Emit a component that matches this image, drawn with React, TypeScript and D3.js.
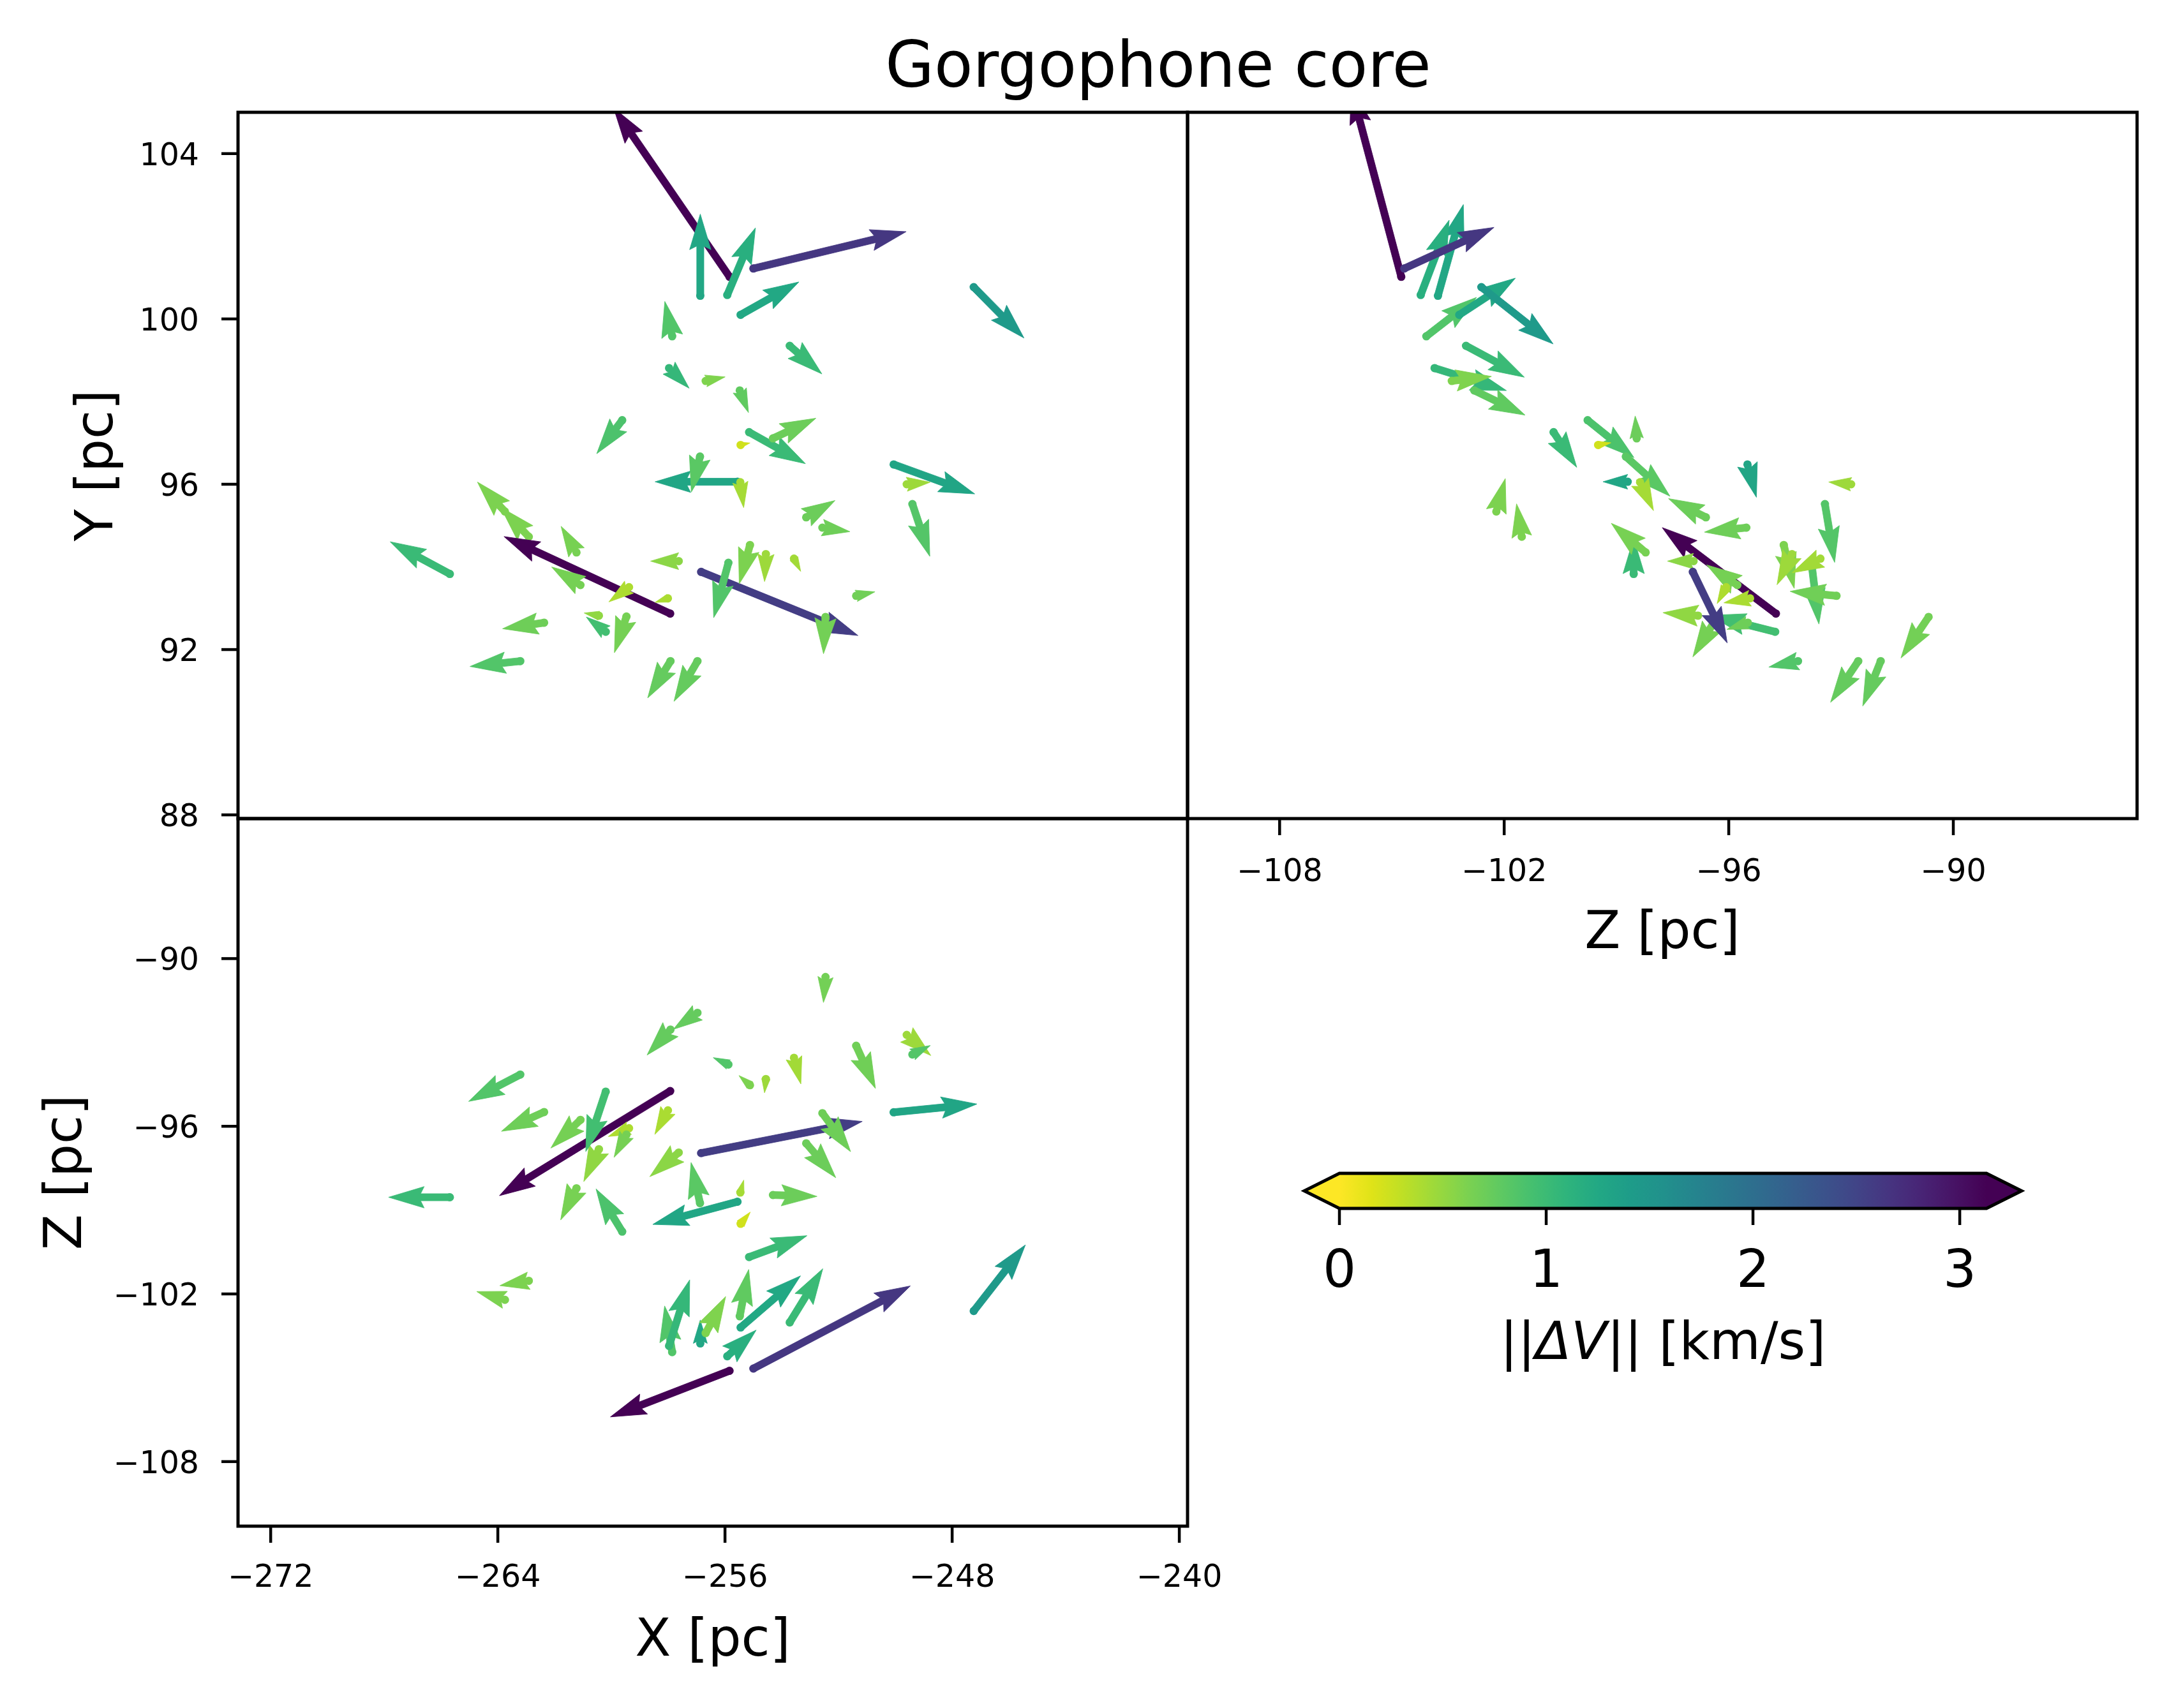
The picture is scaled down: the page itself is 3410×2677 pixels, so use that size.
import React from 'react';
import * as d3 from 'd3';

// Gorgophone core members: positions [pc] and velocity offsets [km/s]
const starX = [
  -255.84, -256.87, -257.86, -257.97, -256.68, -255.92, -255.00, -255.45, -247.24, -253.72,
  -255.48, -259.62, -255.56, -256.88, -262.91, -263.75, -265.69, -257.93, -261.23, -261.09,
  -257.63, -259.38, -258.01, -260.44, -260.20, -259.47, -262.37, -263.21, -257.92, -256.97,
  -256.84, -255.88, -255.12, -254.56, -253.57, -252.46, -251.38, -255.46, -255.45, -255.15,
  -254.31, -250.06, -249.60, -249.40, -253.14, -252.57,
];
const starY = [
  101.02, 100.56, 99.58, 98.81, 98.50, 100.58, 101.22, 100.10, 100.77, 99.35,
  98.27, 97.55, 96.06, 96.67, 94.73, 95.34, 93.83, 92.87, 94.35, 93.56,
  94.14, 93.51, 93.24, 92.82, 92.43, 92.80, 92.65, 91.72, 91.72, 91.72,
  93.88, 94.10, 94.53, 94.31, 94.20, 92.79, 93.30, 96.05, 96.95, 97.26,
  97.11, 96.48, 96.00, 95.52, 95.20, 94.95,
];
const starZ = [
  -104.75, -103.77, -104.08, -103.86, -103.40, -104.23, -104.67, -103.20, -102.61, -103.02,
  -102.80, -99.77, -98.70, -98.75, -101.53, -102.21, -98.54, -94.74, -98.22, -95.77,
  -96.94, -96.07, -95.43, -96.82, -94.76, -96.30, -95.49, -94.15, -92.54, -91.94,
  -96.96, -93.79, -94.53, -94.31, -93.55, -90.66, -93.12, -98.37, -99.49, -100.68,
  -98.46, -95.50, -92.73, -93.43, -96.61, -95.53,
];
const dVx = [
  -1.73, 0.00, -0.11, 0.30, 0.29, 0.42, 2.28, 0.87, 0.75, 0.48,
  0.13, -0.38, -1.23, -0.13, -0.42, -0.41, -0.89, -2.48, -0.23, -0.43,
  -0.42, -0.30, -0.19, -0.22, -0.29, -0.18, -0.62, -0.75, -0.34, -0.35,
  2.34, -0.22, -0.16, -0.02, 0.10, -0.03, 0.28, 0.05, 0.14, 0.84,
  0.64, 1.21, 0.35, 0.26, 0.43, 0.41,
];
const dVy = [
  2.52, 1.22, 0.52, -0.30, 0.06, 1.00, 0.55, 0.49, -0.76, -0.42,
  -0.33, -0.50, 0.00, -0.53, 0.44, 0.44, 0.48, 1.15, 0.39, 0.27,
  0.00, -0.22, -0.06, 0.04, 0.22, -0.54, -0.09, -0.08, -0.55, -0.60,
  -0.95, -0.82, -0.58, -0.41, -0.19, -0.55, 0.06, -0.38, 0.03, -0.47,
  0.30, -0.44, 0.03, -0.78, 0.25, -0.06,
];
const dVz = [
  -0.67, 0.34, 0.67, 0.96, 0.53, 0.38, 1.20, 0.75, 0.96, 0.78,
  0.68, 0.62, -0.33, 0.59, -0.07, 0.12, 0.00, -1.52, -0.46, -0.41,
  -0.35, -0.12, -0.35, -0.47, -0.87, -0.33, -0.28, -0.39, -0.37, -0.24,
  0.46, 0.10, 0.14, -0.20, -0.38, -0.37, -0.62, 0.18, 0.17, 0.31,
  -0.02, 0.12, -0.30, 0.13, -0.50, -0.56,
];

const xTicks = [-272, -264, -256, -248, -240];
const yTicks = [88, 92, 96, 100, 104];
const zTicks = [-108, -102, -96, -90];
const cbarTicks = [0, 1, 2, 3];

const W = 3410;
const H = 2677;
const FONT = '"DejaVu Sans", sans-serif';
const L = 373, M = 1861, R = 3349;
const T = 176, MID = 1283, B = 2392;
const LW = 5;

const speed = dVx.map((u, i) => Math.hypot(u, dVy[i], dVz[i]));
const vmax = d3.max(speed) as number;
const color = d3.scaleSequential((t: number) => d3.interpolateViridis(1 - t)).domain([0, vmax]);

const x = d3.scaleLinear().domain([-273.15, -239.71]).range([L, M]);
const y = d3.scaleLinear().domain([87.91, 105.0]).range([MID, T]);
const zH = d3.scaleLinear().domain([-110.46, -85.09]).range([M, R]);
const zV = d3.scaleLinear().domain([-110.31, -84.99]).range([B, MID]);
const cb = d3.scaleLinear().domain([0, vmax]).range([2099, 3113]);

const fmt = (d: number) => (d < 0 ? '\u2212' + Math.abs(d) : String(d));

// matplotlib-style quiver arrow outline, in pixels, pointing along +x
function arrowPoints(len: number, w: number): [number, number][] {
  const l = len / w;
  const HL = 5, HAL = 4.5, HW = 3, MINSH = HL, MINLEN = 1;
  let pts: [number, number][];
  if (l < MINLEN) {
    pts = d3.range(7).map(k => [Math.cos(k * Math.PI / 3) * 0.5, Math.sin(k * Math.PI / 3) * 0.5] as [number, number]);
  } else if (l < MINSH) {
    const s = l / MINSH;
    pts = ([[0, 0.5], [MINSH - HAL, 0.5], [MINSH - HL, HW / 2], [MINSH, 0], [MINSH - HL, -HW / 2], [MINSH - HAL, -0.5], [0, -0.5]] as [number, number][])
      .map(([a, b]) => [a * s, b * s] as [number, number]);
  } else {
    pts = [[0, 0.5], [l - HAL, 0.5], [l - HL, HW / 2], [l, 0], [l - HL, -HW / 2], [l - HAL, -0.5], [0, -0.5]];
  }
  return pts.map(([a, b]) => [a * w, b * w] as [number, number]);
}

type QProps = {
  id: string;
  px: number[];
  py: number[];
  u: number[];
  v: number[];
  box: [number, number, number, number];
};

function Quiver({ id, px, py, u, v, box }: QProps) {
  const [x0, y0, x1, y1] = box;
  const axW = x1 - x0;
  const n = u.length;
  const mag = u.map((d, i) => Math.hypot(d, v[i]));
  const amean = d3.mean(mag) as number;
  // autoscale the way pyplot.quiver does
  const scale = 1.8 * amean * Math.max(10, Math.sqrt(n));
  const shaft = (0.06 / Math.min(25, Math.max(8, Math.sqrt(n)))) * axW;
  return (
    <g clipPath={`url(#${id})`}>
      <defs>
        <clipPath id={id}>
          <rect x={x0} y={y0} width={axW} height={y1 - y0} />
        </clipPath>
      </defs>
      {u.map((d, i) => {
        const c = color(speed[i]);
        const len = (mag[i] / scale) * axW;
        const ang = (Math.atan2(-v[i], d) * 180) / Math.PI;
        const pts = arrowPoints(len, shaft).map(p => p.join(',')).join(' ');
        return (
          <g key={i}>
            <circle cx={px[i]} cy={py[i]} r={6.5} fill={c} />
            <polygon
              points={pts}
              transform={`translate(${px[i]},${py[i]}) rotate(${ang})`}
              fill={c}
              stroke={c}
              strokeWidth={0.8}
            />
          </g>
        );
      })}
    </g>
  );
}

export default function App() {
  const tickW = 4.5;
  const tickLen = 26;
  const tickFont = 49;
  const labelFont = 82;
  const stops = d3.range(0, 1.0001, 0.05);
  const cy0 = 1839, cy1 = 1894, cym = (cy0 + cy1) / 2;
  const [cx0, cx1] = cb.range();
  const ext = 55;

  return (
    <svg
      width={W}
      height={H}
      viewBox={`0 0 ${W} ${H}`}
      style={{ position: 'absolute', left: 0, top: 0, background: '#fff' }}
      fontFamily={FONT}
    >
      <rect width={W} height={H} fill="#fff" />
      <defs>
        <linearGradient id="cbar" x1="0" x2="1" y1="0" y2="0">
          {stops.map(t => (
            <stop key={t} offset={t} stopColor={d3.interpolateViridis(1 - t)} />
          ))}
        </linearGradient>
      </defs>

      <text x={1815} y={136} fontSize={99} textAnchor="middle">Gorgophone core</text>

      {/* X-Y */}
      <Quiver id="clipXY" px={starX.map(x)} py={starY.map(y)} u={dVx} v={dVy} box={[L, T, M, MID]} />
      {/* Z-Y */}
      <Quiver id="clipZY" px={starZ.map(zH)} py={starY.map(y)} u={dVz} v={dVy} box={[M, T, R, MID]} />
      {/* X-Z */}
      <Quiver id="clipXZ" px={starX.map(x)} py={starZ.map(zV)} u={dVx} v={dVz} box={[L, MID, M, B]} />

      {/* frames */}
      <g fill="none" stroke="#000" strokeWidth={LW}>
        <rect x={L} y={T} width={M - L} height={MID - T} />
        <rect x={M} y={T} width={R - M} height={MID - T} />
        <rect x={L} y={MID} width={M - L} height={B - MID} />
      </g>

      {/* Y ticks */}
      {yTicks.map(t => (
        <g key={'y' + t}>
          <line x1={L - tickLen} x2={L} y1={y(t)} y2={y(t)} stroke="#000" strokeWidth={tickW} />
          <text x={312} y={y(t) + 18} fontSize={tickFont} textAnchor="end">{fmt(t)}</text>
        </g>
      ))}
      {/* Z ticks on X-Z panel */}
      {zTicks.map(t => (
        <g key={'zv' + t}>
          <line x1={L - tickLen} x2={L} y1={zV(t)} y2={zV(t)} stroke="#000" strokeWidth={tickW} />
          <text x={312} y={zV(t) + 18} fontSize={tickFont} textAnchor="end">{fmt(t)}</text>
        </g>
      ))}
      {/* X ticks */}
      {xTicks.map(t => (
        <g key={'x' + t}>
          <line x1={x(t)} x2={x(t)} y1={B} y2={B + tickLen} stroke="#000" strokeWidth={tickW} />
          <text x={x(t)} y={2487} fontSize={tickFont} textAnchor="middle">{fmt(t)}</text>
        </g>
      ))}
      {/* Z ticks on Z-Y panel */}
      {zTicks.map(t => (
        <g key={'zh' + t}>
          <line x1={zH(t)} x2={zH(t)} y1={MID} y2={MID + tickLen} stroke="#000" strokeWidth={tickW} />
          <text x={zH(t)} y={1381} fontSize={tickFont} textAnchor="middle">{fmt(t)}</text>
        </g>
      ))}

      {/* axis labels */}
      <text transform={`translate(176,${(T + MID) / 2}) rotate(-90)`} fontSize={labelFont} textAnchor="middle">Y [pc]</text>
      <text transform={`translate(127,${(MID + B) / 2}) rotate(-90)`} fontSize={labelFont} textAnchor="middle">Z [pc]</text>
      <text x={(L + M) / 2} y={2595} fontSize={labelFont} textAnchor="middle">X [pc]</text>
      <text x={(M + R) / 2} y={1486} fontSize={labelFont} textAnchor="middle">Z [pc]</text>

      {/* colorbar */}
      <rect x={cx0} y={cy0} width={cx1 - cx0} height={cy1 - cy0} fill="url(#cbar)" />
      <polygon points={`${cx0 - ext},${cym} ${cx0},${cy0} ${cx0},${cy1}`} fill={color(0)} />
      <polygon points={`${cx1 + ext},${cym} ${cx1},${cy0} ${cx1},${cy1}`} fill={color(vmax)} />
      <polygon
        points={`${cx0 - ext},${cym} ${cx0},${cy0} ${cx1},${cy0} ${cx1 + ext},${cym} ${cx1},${cy1} ${cx0},${cy1}`}
        fill="none"
        stroke="#000"
        strokeWidth={LW}
      />
      {cbarTicks.map(t => (
        <g key={'c' + t}>
          <line x1={cb(t)} x2={cb(t)} y1={cy1} y2={cy1 + tickLen} stroke="#000" strokeWidth={tickW} />
          <text x={cb(t)} y={2017} fontSize={labelFont} textAnchor="middle">{t}</text>
        </g>
      ))}
      <text x={(cx0 + cx1) / 2} y={2130} fontSize={labelFont} textAnchor="middle">
        ||<tspan fontStyle="italic">ΔV</tspan>|| [km/s]
      </text>
    </svg>
  );
}
